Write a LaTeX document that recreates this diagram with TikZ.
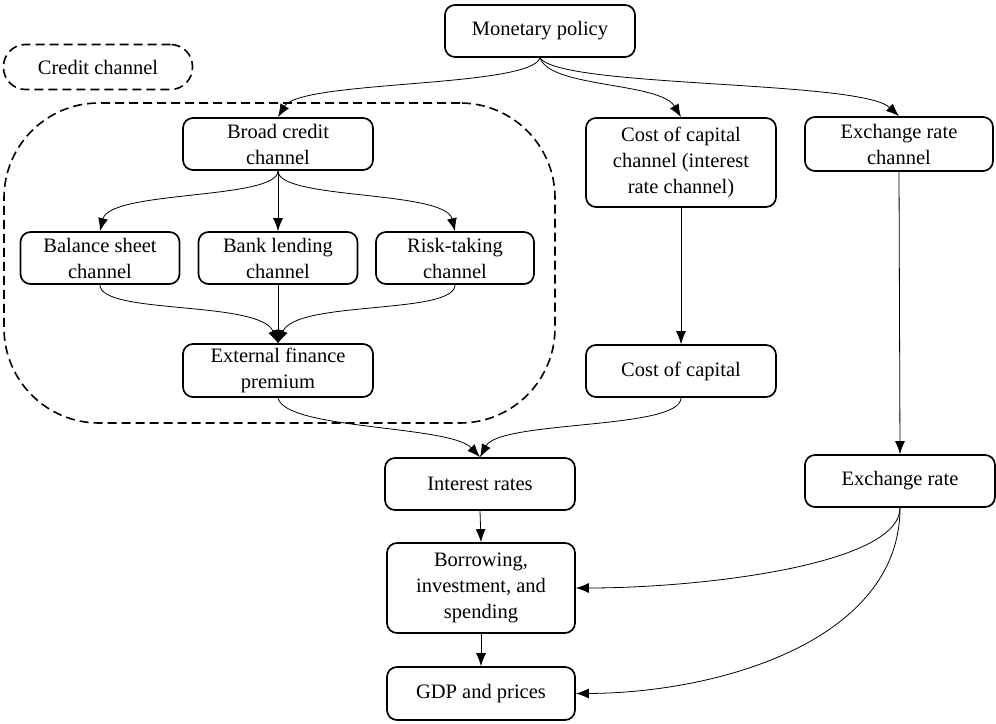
\documentclass[tikz,border=0pt]{standalone}
\usepackage{fontspec}
\setmainfont{Liberation Serif}
\usetikzlibrary{arrows.meta}
\begin{document}
\begin{tikzpicture}[x=1bp,y=-1bp,
  box/.style={draw, rounded corners=10bp, line width=1.7bp, align=center, inner sep=0pt,
    font=\fontsize{20.5bp}{26bp}\selectfont},
  link/.style={-{Latex[length=13bp,width=10bp]}, line width=0.8bp},
  dashbox/.style={draw, dash pattern=on 9bp off 5bp, line width=1.6bp}]
\useasboundingbox (0,0) rectangle (996,724);
% region
\node[dashbox, rounded corners=95bp, minimum width=551bp, minimum height=320bp, inner sep=0pt] (region) at (279.5,263) {};
\node[box, dashbox, rounded corners=22bp, minimum width=189bp, minimum height=45bp] (cc) at (98,67) {Credit channel};
% nodes
\node[box, minimum width=190bp, minimum height=52bp] (mp) at (540,31) {Monetary policy};
\node[box, minimum width=190bp, minimum height=52bp] (broad) at (278,144) {Broad credit\\channel};
\node[box, minimum width=159bp, minimum height=52bp] (bal) at (100,258) {Balance sheet\\channel};
\node[box, minimum width=159bp, minimum height=52bp] (bank) at (278,258) {Bank lending\\channel};
\node[box, minimum width=158bp, minimum height=52bp] (risk) at (455,258) {Risk-taking\\channel};
\node[box, minimum width=190bp, minimum height=53bp] (ext) at (278,370.5) {External finance\\premium};
\node[box, minimum width=190bp, minimum height=89bp] (cocc) at (681,162.5) {Cost of capital\\channel (interest\\rate channel)};
\node[box, minimum width=188bp, minimum height=54bp] (xrc) at (899,144) {Exchange rate\\channel};
\node[box, minimum width=190bp, minimum height=52bp] (coc) at (681,371) {Cost of capital};
\node[box, minimum width=190bp, minimum height=52bp] (ir) at (480,484) {Interest rates};
\node[box, minimum width=190bp, minimum height=52bp] (xr) at (900,481) {Exchange rate};
\node[box, minimum width=188bp, minimum height=90bp] (bor) at (481,588) {Borrowing,\\investment, and\\spending};
\node[box, minimum width=188bp, minimum height=53bp] (gdp) at (481,693.5) {GDP and prices};
% edges
\draw[link] (mp.south) .. controls (530,88) and (300,80) .. (broad.north);
\draw[link] (mp.south) .. controls (550,88) and (660,82) .. (cocc.north);
\draw[link] (mp.south) .. controls (560,88) and (860,80) .. (xrc.north);
\draw[link] (broad.south) .. controls (278,200) and (110,190) .. (bal.north);
\draw[link] (broad.south) -- (bank.north);
\draw[link] (broad.south) .. controls (278,200) and (445,190) .. (risk.north);
\draw[link] (bal.south) .. controls (100,315) and (260,300) .. (ext.north);
\draw[link] (bank.south) -- (ext.north);
\draw[link] (risk.south) .. controls (455,315) and (296,300) .. (ext.north);
\draw[link] (ext.south) .. controls (285,430) and (450,425) .. (ir.north);
\draw[link] (coc.south) .. controls (681,430) and (500,420) .. (ir.north);
\draw[link] (cocc.south) -- (coc.north);
\draw[link] (xrc.south) -- (xr.north);
\draw[link] (ir.south) -- (bor.north);
\draw[link] (bor.south) -- (gdp.north);
\draw[link] (xr.south) .. controls (900,565) and (700,588) .. (bor.east);
\draw[link] (xr.south) .. controls (900,640) and (720,693) .. (gdp.east);
\end{tikzpicture}
\end{document}
